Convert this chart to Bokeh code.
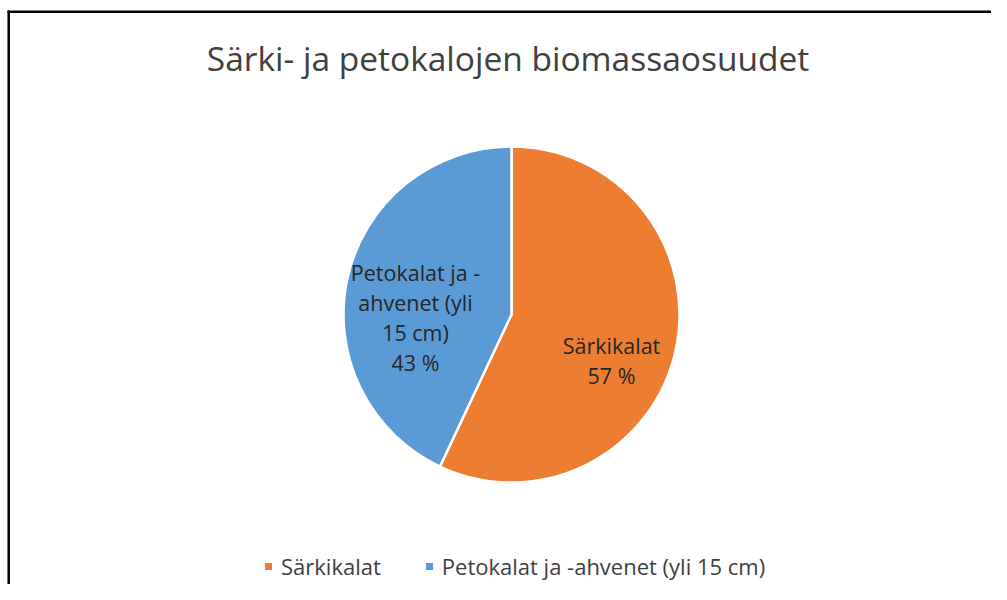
from math import pi
from bokeh.plotting import figure
from bokeh.models import ColumnDataSource, Legend, LegendItem
from bokeh.core.properties import value
from bokeh.embed import file_html
from bokeh.resources import INLINE

# ---- data ----
title_text = "Särki- ja petokalojen biomassaosuudet"
categories = ["Särkikalat", "Petokalat ja -ahvenet (yli 15 cm)"]
shares = [57, 43]
label_lines = [["Särkikalat", "57 %"],
               ["Petokalat ja -", "ahvenet (yli", "15 cm)", "43 %"]]
colors = ["#ED7D31", "#5B9BD5"]

# ---- layout ----
W, H = 991, 584
CX, CY, R = 511, 270, 168
label_offsets = [(100, -46), (-96, -3)]
LINE_GAP = 30
FONT = "Open Sans"
TXT = "#404040"

p = figure(width=W, height=H, x_range=(0, W), y_range=(0, H),
           output_backend="svg", toolbar_location=None, min_border=0)
p.axis.visible = False
p.grid.visible = False
p.outline_line_color = None
p.background_fill_color = "white"
p.border_fill_color = "white"

# frame (left + top edges of the chart area)
p.line(x=[8.2, 8.2], y=[0, 574], line_color="#000000", line_width=2.5)
p.line(x=[7, W], y=[572.7, 572.7], line_color="#000000", line_width=2.5)

# pie
total = float(sum(shares))
starts, ends = [], []
a = pi / 2
for s in shares:
    sweep = 2 * pi * s / total
    ends.append(a)
    starts.append(a - sweep)
    a -= sweep
src = ColumnDataSource(dict(cat=categories, share=shares, color=colors,
                            start=starts, end=ends,
                            x=[CX] * len(shares), y=[CY] * len(shares)))
wr = p.wedge(x="x", y="y", radius=R, start_angle="start", end_angle="end",
             direction="anticlock", fill_color="color", line_color="white",
             line_width=2.5, source=src)

# data labels
lx, ly, lt = [], [], []
for i, lines in enumerate(label_lines):
    ox, oy = label_offsets[i]
    n = len(lines)
    for j, t in enumerate(lines):
        lx.append(CX + ox)
        ly.append(CY + oy + (n - 1) / 2 * LINE_GAP - j * LINE_GAP)
        lt.append(t)
p.text(x=lx, y=ly, text=lt, text_font=value(FONT), text_font_size="21.5px",
       text_color="#262626", text_align="center", text_baseline="middle")

# title
p.text(x=[507.5], y=[526.5], text=[title_text], text_font=value(FONT),
       text_font_size="33.5px", text_color=TXT, text_align="center",
       text_baseline="middle")

# legend
items = [LegendItem(label=categories[i], renderers=[wr], index=i)
         for i in range(len(categories))]
legend = Legend(items=items, orientation="horizontal", location=(262, 3),
                glyph_width=12, glyph_height=12, label_standoff=7, spacing=42,
                padding=0, margin=0, border_line_color=None,
                background_fill_alpha=0,
                label_text_font=FONT, label_text_font_size="22px",
                label_text_color=TXT, label_height=22)
p.add_layout(legend, "center")

open("out.html", "w").write(file_html(p, INLINE))
